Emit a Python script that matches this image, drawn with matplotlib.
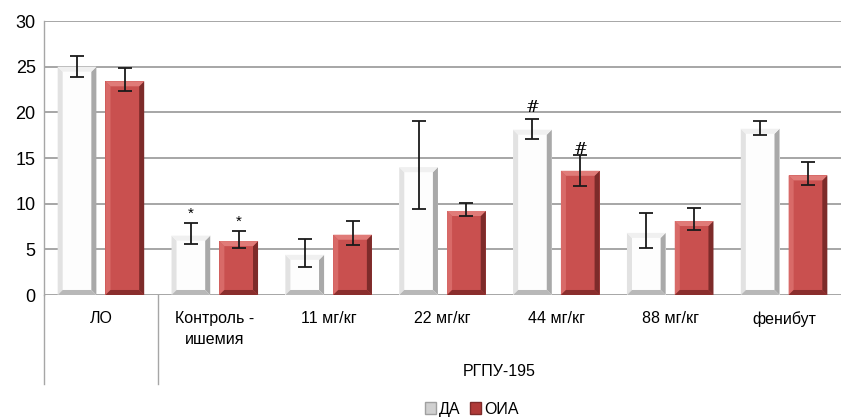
import matplotlib
matplotlib.use("Agg")
import matplotlib.pyplot as plt
from matplotlib.patches import Polygon, Patch
from matplotlib.transforms import blended_transform_factory
import numpy as np

categories = ["ЛО", "Контроль -\nишемия", "11 мг/кг", "22 мг/кг", "44 мг/кг", "88 мг/кг", "фенибут"]
group_label = "РГПУ-195"
series_names = ["ДА", "ОИА"]
da_values = [25.0, 6.5, 4.4, 14.0, 18.1, 6.8, 18.2]
oia_values = [23.4, 5.9, 6.6, 9.2, 13.6, 8.1, 13.1]
da_err_low = [23.9, 5.6, 3.1, 9.4, 17.1, 5.1, 17.5]
da_err_high = [26.2, 7.9, 6.1, 19.0, 19.3, 9.0, 19.1]
oia_err_low = [22.3, 5.1, 5.5, 8.6, 11.9, 7.1, 12.0]
oia_err_high = [24.8, 7.0, 8.1, 10.1, 15.3, 9.5, 14.6]
da_marks = ["", "*", "", "", "#", "", ""]
oia_marks = ["", "*", "", "", "#", "", ""]
yticks = [0, 5, 10, 15, 20, 25, 30]

fig = plt.figure(figsize=(8.43, 4.19), dpi=100)
ax = fig.add_axes([44/843, 1-295/419, (841-44)/843, (295-21)/419])

x = np.arange(len(categories))
off = 0.21
w = 0.34

ax.set_xlim(-0.5, len(categories) - 0.5)
ax.set_ylim(0, 30)
ax.set_yticks(yticks)
ax.yaxis.grid(True, color="#a6a6a6", lw=1.4, zorder=0)
ax.set_axisbelow(True)
ax.tick_params(axis="y", length=0, pad=6, labelsize=13)
ax.tick_params(axis="x", length=0, labelbottom=False)
for lab in ax.get_yticklabels():
    lab.set_fontfamily(["Liberation Sans", "DejaVu Sans"])
for s in ["top", "right", "bottom"]:
    ax.spines[s].set_visible(False)
ax.spines["left"].set_color("#a6a6a6")
ax.spines["left"].set_linewidth(1.0)


def bevel_bar(xc, h, colors):
    body, left, right, top, bottom = colors
    bars = ax.bar([xc], [h], width=w, color=body, zorder=2, linewidth=0)
    p = bars[0]
    x0 = p.get_x(); x1 = x0 + p.get_width(); y0 = 0; y1 = p.get_height()
    bx = p.get_width() * 0.13
    by = 0.55
    polys = [
        ([(x0, y0), (x0 + bx, y0 + by), (x0 + bx, y1 - by), (x0, y1)], left),
        ([(x1, y0), (x1 - bx, y0 + by), (x1 - bx, y1 - by), (x1, y1)], right),
        ([(x0, y1), (x0 + bx, y1 - by), (x1 - bx, y1 - by), (x1, y1)], top),
        ([(x0, y0), (x0 + bx, y0 + by), (x1 - bx, y0 + by), (x1, y0)], bottom),
    ]
    for pts, c in polys:
        ax.add_patch(Polygon(pts, closed=True, facecolor=c, edgecolor="none", zorder=3))


white_cols = ("#fdfdfd", "#e2e2e2", "#a9a9a9", "#f0f0f0", "#b8b8b8")
red_cols = ("#c9504f", "#d86a68", "#7d2b2a", "#e07b78", "#8a2e2d")

for i in range(len(categories)):
    bevel_bar(x[i] - off, da_values[i], white_cols)
    bevel_bar(x[i] + off, oia_values[i], red_cols)

ax.errorbar(x - off, (np.array(da_err_low) + np.array(da_err_high)) / 2,
            yerr=(np.array(da_err_high) - np.array(da_err_low)) / 2,
            fmt="none", ecolor="#1a1a1a", elinewidth=1.3, capsize=5, capthick=1.3, zorder=5)
ax.errorbar(x + off, (np.array(oia_err_low) + np.array(oia_err_high)) / 2,
            yerr=(np.array(oia_err_high) - np.array(oia_err_low)) / 2,
            fmt="none", ecolor="#1a1a1a", elinewidth=1.3, capsize=5, capthick=1.3, zorder=5)

for i in range(len(categories)):
    if da_marks[i]:
        ax.text(x[i] - off, da_err_high[i] + 0.25, da_marks[i], ha="center", va="bottom",
                fontsize=12 if da_marks[i] == "#" else 11, zorder=6,
                family=["DejaVu Serif"] if da_marks[i] == "#" else ["Liberation Sans"])
    if oia_marks[i]:
        ax.text(x[i] + off, oia_err_high[i] - 0.3 if oia_marks[i] == "#" else oia_err_high[i] + 0.25,
                oia_marks[i], ha="center", va="bottom",
                fontsize=12 if oia_marks[i] == "#" else 11, zorder=6,
                family=["DejaVu Serif"] if oia_marks[i] == "#" else ["Liberation Sans"])

trans = blended_transform_factory(ax.transData, ax.transAxes)
lab_font = ["Liberation Sans", "DejaVu Sans"]
for i, c in enumerate(categories):
    ax.text(x[i], -0.06, c, transform=trans, ha="center", va="top", fontsize=11.5,
            family=lab_font, linespacing=1.45)
ax.text((x[1] + x[-1]) / 2, -0.252, group_label, transform=trans, ha="center", va="top",
        fontsize=11.5, family=lab_font)

for xv in [-0.5, 0.5]:
    ax.plot([xv, xv], [0, -0.325], transform=trans, color="#a6a6a6", lw=1.0, clip_on=False)

handles = [Patch(facecolor="#d0d0d0", edgecolor="#a0a0a0"), Patch(facecolor="#b03a38", edgecolor="#7d2b2a")]
leg = fig.legend(handles, series_names, loc="center", bbox_to_anchor=(472/843, 1 - 409/419),
                 ncol=2, frameon=False, handlelength=0.7, handleheight=0.7, handletextpad=0.2,
                 columnspacing=0.6, prop={"family": lab_font, "size": 11.5})

fig.savefig("out.png", dpi=100)
